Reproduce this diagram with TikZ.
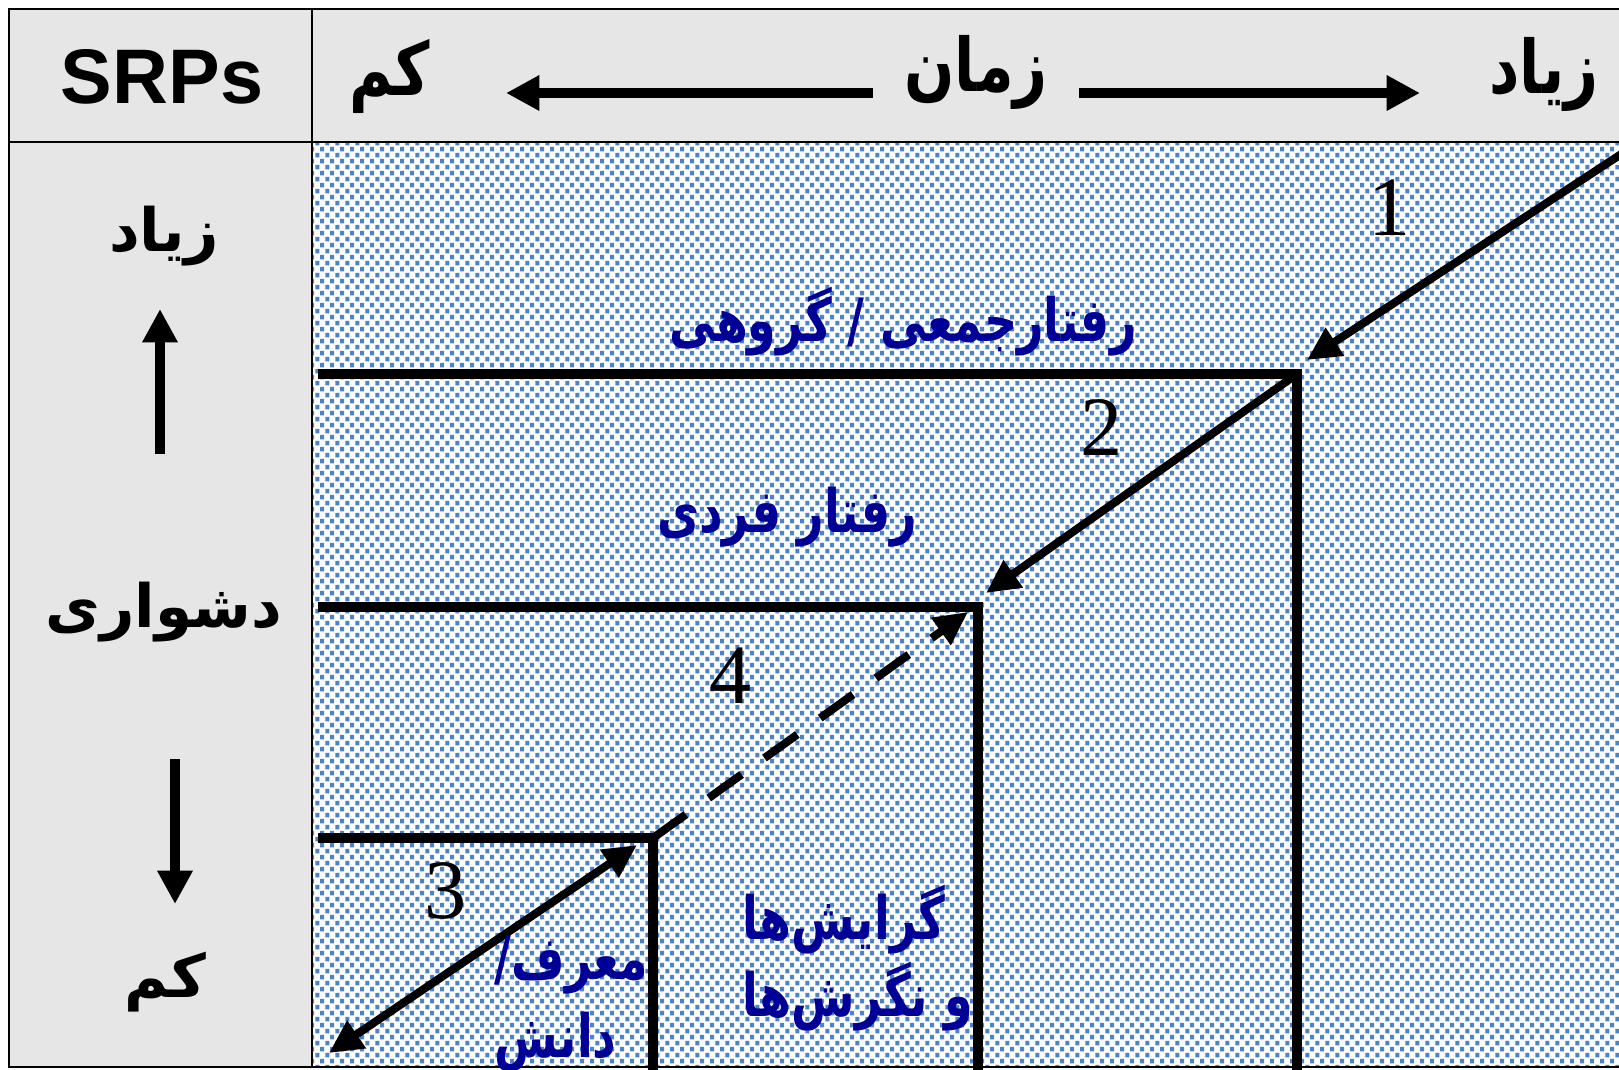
\documentclass[tikz,border=0pt]{standalone}
\usepackage{fontspec}
\setmainfont{Liberation Serif}
\newfontfamily\farsi[Script=Arabic]{DejaVu Sans}
\newfontfamily\farsinarrow[Script=Arabic,FakeStretch=0.77]{DejaVu Sans}
\newfontfamily\farsihead[Script=Arabic,FakeStretch=0.8]{DejaVu Sans}
\newfontfamily\sanslat{Liberation Sans}
\TeXXeTstate=1
\usetikzlibrary{arrows.meta,patterns}
\definecolor{cellgray}{HTML}{E6E6E6}
\definecolor{dotblue}{HTML}{4C82C6}
\definecolor{textblue}{HTML}{000096}
\newcommand{\fa}[1]{\beginR#1\endR}
\pgfdeclarepatternformonly{bluedots}{\pgfqpoint{0pt}{0pt}}{\pgfqpoint{2.9pt}{3.4pt}}{\pgfqpoint{2.9pt}{3.4pt}}{%
  \pgfpathrectangle{\pgfqpoint{0.1pt}{0.2pt}}{\pgfqpoint{1.25pt}{1.25pt}}%
  \pgfpathrectangle{\pgfqpoint{1.55pt}{1.9pt}}{\pgfqpoint{1.25pt}{1.25pt}}%
  \pgfusepath{fill}}

\begin{document}
\begin{tikzpicture}[x=0.01cm,y=-0.01cm,
  farsitext/.style={font=\farsi\bfseries\fontsize{17}{20}\selectfont,inner sep=0pt},
  headtext/.style={font=\farsihead\bfseries\fontsize{21}{24}\selectfont,inner sep=0pt},
  bluetext/.style={font=\farsinarrow\bfseries\fontsize{17}{22}\selectfont,inner sep=0pt,
                   text=textblue,align=left},
  numlabel/.style={font=\fontsize{24}{24}\selectfont,inner sep=0pt},
  stair/.style={line width=3.1pt},
  fatarrow/.style={line width=3pt,-{Triangle[length=9.5pt,width=9.5pt]}},
  diagarrow/.style={line width=2.3pt,-{Triangle[length=9.5pt,width=9pt]}},
  frameline/.style={line width=0.7pt}
]
\clip (0,0) rectangle (1619,1069);
% table cells
\fill[cellgray] (9,9) rectangle (1640,1067);
\fill[white] (312,142) rectangle (1640,1067);
\fill[pattern=bluedots,pattern color=dotblue] (312,142) rectangle (1640,1067);
\draw[frameline] (9,9) rectangle (1640,1067);
\draw[frameline] (9,142) -- (1640,142);
\draw[frameline] (312,9) -- (312,1067);

% header row
\node[font=\sanslat\bfseries\fontsize{22}{22}\selectfont,inner sep=0pt] (srps) at (162,77) {SRPs};
\node[headtext] (tlow) at (390,76) {\fa{کم}};
\node[headtext] (time) at (976,72) {\fa{زمان}};
\node[headtext] (thigh) at (1544,74) {\fa{زیاد}};
\coordinate (tl0) at (873,93); \coordinate (tl1) at (506,93);
\coordinate (tr0) at (1079,93); \coordinate (tr1) at (1420,93);
\draw[fatarrow] (tl0) -- (tl1);
\draw[fatarrow] (tr0) -- (tr1);

% difficulty column
\node[farsitext] (dhigh) at (164,236) {\fa{زیاد}};
\node[farsitext] (diff) at (164,612) {\fa{دشواری}};
\node[farsitext] (dlow) at (165,982) {\fa{کم}};
\coordinate (du0) at (160,454); \coordinate (du1) at (160,309);
\coordinate (dd0) at (175,759); \coordinate (dd1) at (175,904);
\draw[fatarrow] (du0) -- (du1);
\draw[fatarrow] (dd0) -- (dd1);

% staircase
\coordinate (c1) at (1297,374);
\coordinate (c2) at (978,607);
\coordinate (c3) at (653,838);
\draw[stair] (318,374) -- (c1) -- (1297,1080);
\draw[stair] (318,607) -- (c2) -- (978,1080);
\draw[stair] (318,838) -- (c3) -- (653,1080);

% arrows
\coordinate (a1) at (1632,147); \coordinate (a1t) at (1307,360);
\coordinate (a2t) at (986,593);
\coordinate (a4t) at (968,612);
\coordinate (a3a) at (637,845); \coordinate (a3b) at (329,1053);
\draw[diagarrow] (a1) -- (a1t);
\draw[diagarrow] (c1) -- (a2t);
\draw[diagarrow,dash pattern=on 11.5pt off 8pt] (c3) -- (a4t);
\draw[diagarrow,{Triangle[length=9.5pt,width=9pt]}-{Triangle[length=9.5pt,width=9pt]}] (a3a) -- (a3b);

\node[numlabel] (n1) at (1390,208) {1};
\node[numlabel] (n2) at (1102,428) {2};
\node[numlabel] (n4) at (731,676) {4};
\node[numlabel] (n3) at (446,891) {3};

% levels
\node[bluetext] (group) at (903,322) {\fa{رفتارجمعی / گروهی}};
\node[bluetext] (indiv) at (787,517) {\fa{رفتار فردی}};
\node[bluetext,anchor=west] (attit) at (742,958) {\fa{گرایش‌ها}\\\fa{و نگرش‌ها}};
\node[bluetext,anchor=west] (know) at (494,1004) {\fa{معرف/}\\\fa{دانش}};
\end{tikzpicture}
\end{document}
